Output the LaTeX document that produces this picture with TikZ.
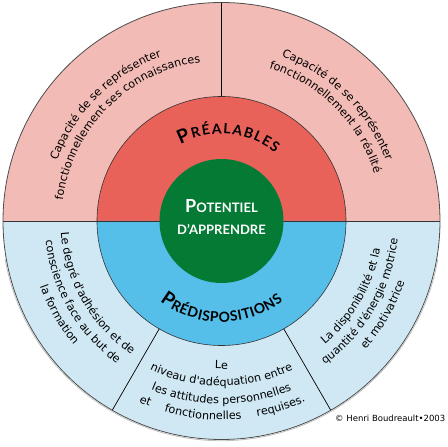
\documentclass[tikz,border=0pt]{standalone}
\usepackage{fontspec}
\usetikzlibrary{decorations.text}
\newfontfamily\bodyfont{DejaVu Sans}
\newfontfamily\titlefont{Lato}
\newfontfamily\potfont{Lato}
\definecolor{pinkout}{HTML}{F3BBB5}
\definecolor{redmid}{HTML}{E8625A}
\definecolor{bluemid}{HTML}{55BFEA}
\definecolor{blueout}{HTML}{CFE8F4}
\definecolor{greenc}{HTML}{047A35}
\newcommand\arctext[5][center]{%
  \path[decorate,decoration={text along path,text align={#1},
    text={|\bodyfont\fontsize{11.2}{12}\selectfont|#5}}]
    (#3:#2pt) arc[start angle=#3,end angle=#4,radius=#2pt];}
\newcommand\arctitle[4]{%
  \path[decorate,decoration={text along path,text align=center,
    text={#4}}]
    (#2:#1pt) arc[start angle=#2,end angle=#3,radius=#1pt];}
\newcommand\ttlbig{\titlefont\bfseries\fontsize{19}{19}\selectfont}
\newcommand\ttlsmall{\titlefont\bfseries\fontsize{14}{14}\selectfont}
\begin{document}
\begin{tikzpicture}[x=1pt,y=1pt,
  divider/.style={draw=black,line width=0.7pt},
  ringline/.style={draw=black!80,line width=0.6pt}]
\useasboundingbox (-221.5,-226) rectangle (226.5,221);
\def\R{218.5}
\def\M{124.5}
\def\G{62}
% outer ring
\fill[pinkout] (0:\R pt) arc[start angle=0,end angle=180,radius=\R pt] -- cycle;
\fill[blueout] (180:\R pt) arc[start angle=180,end angle=360,radius=\R pt] -- cycle;
% middle ring
\fill[redmid] (0:\M pt) arc[start angle=0,end angle=180,radius=\M pt] -- cycle;
\fill[bluemid] (180:\M pt) arc[start angle=180,end angle=360,radius=\M pt] -- cycle;
% lines
\draw[ringline] (0,0) circle[radius=\M pt];
\draw[ringline] (180:\R pt) -- (0:\R pt);
\draw[divider] (90:\M pt) -- (90:\R pt);
\draw[divider] (240:\M pt) -- (240:\R pt);
\draw[divider] (300:\M pt) -- (300:\R pt);
\draw[draw=black!70,line width=0.8pt] (0,0) circle[radius=\R pt];
\draw[draw=black!25,line width=0.8pt] (190:\R pt+1.2pt) arc[start angle=190,end angle=350,radius=\R pt+1.2pt];
% center
\fill[greenc] (0,0) circle[radius=\G pt];
\node[anchor=base,text=white,inner sep=0pt] (pot1) at (0,8)
  {\potfont\bfseries\fontsize{18}{18}\selectfont P\fontsize{13}{13}\selectfont OTENTIEL};
\node[anchor=base,text=white,inner sep=0pt] (pot2) at (0,-14)
  {\potfont\bfseries\fontsize{13}{13}\selectfont D’APPRENDRE};
% titles
\arctitle{87}{160}{10}{|\ttlbig|{P\kern1.6pt}|\ttlsmall|{R\kern1.4pt}{É\kern1.4pt}{A\kern1.4pt}{L\kern1.4pt}{A\kern1.4pt}{B\kern1.4pt}{L\kern1.4pt}{E\kern1.4pt}{S}}
\arctitle{101}{195}{345}{|\ttlbig|{P\kern0.6pt}|\ttlsmall|{R\kern0.5pt}{É\kern0.5pt}{D\kern0.5pt}{I\kern0.5pt}{S\kern0.5pt}{P\kern0.5pt}{O\kern0.5pt}{S\kern0.5pt}{I\kern0.5pt}{T\kern0.5pt}{I\kern0.5pt}{O\kern0.5pt}{N\kern0.5pt}{S}}
% upper left
\arctext{175}{178}{92}{Capacité de se représenter}
\arctext{160}{178}{92}{fonctionnellement ses connaissances}
% upper right
\arctext{175}{88}{2}{Capacité de se représenter}
\arctext{160}{88}{2}{fonctionnellement la réalité}
% lower left
\arctext{161}{178}{242}{Le degré d'adhésion et de}
\arctext{177}{178}{242}{conscience face au but de}
\arctext{193}{178}{242}{la formation}
% bottom
\arctext{148}{240}{300}{Le}
\arctext{165}{238}{302}{niveau d'adéquation entre}
\arctext{183}{238}{302}{les attitudes personnelles}
\arctext[fit to path stretching spaces]{199}{245.5}{295}{et fonctionnelles requises.}
% lower right
\arctext{161}{298}{362}{La disponibilité et la}
\arctext{177}{298}{362}{quantité d'énergie motrice}
\arctext{193}{298}{362}{et motivatrice}
% copyright
\node[anchor=base east,inner sep=0pt] (copy) at (224,-201)
  {\bodyfont\fontsize{8.5}{10}\selectfont © Henri Boudreault•2003};
\end{tikzpicture}
\end{document}
